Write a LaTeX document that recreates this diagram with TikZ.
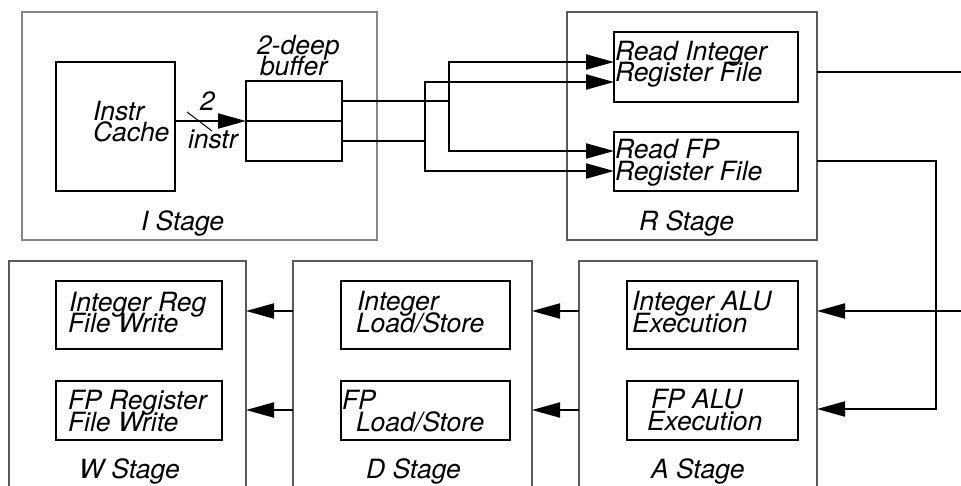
\documentclass[tikz,border=0pt]{standalone}
\usepackage{fontspec}
\setmainfont{TeX Gyre Heros}
\usetikzlibrary{arrows.meta}
\definecolor{stagelight}{HTML}{868686}
\definecolor{stagedark}{HTML}{5A5A5A}
\tikzset{
  stagebox/.style={draw=stagedark, line width=2pt, anchor=north west, inner sep=0pt, outer sep=0pt},
  unitbox/.style={draw=black, line width=2pt, anchor=north west, inner sep=0pt, outer sep=0pt},
  lbl/.style={anchor=base west, inner sep=0pt, outer sep=0pt, font=\fontsize{26.5}{21}\selectfont\itshape},
  conn/.style={draw=black, line width=2pt},
  arr/.style={conn, -{Triangle[length=28pt,width=15pt]}},
}
\begin{document}
\begin{tikzpicture}[x=1pt, y=-1pt]
\useasboundingbox (0,0) rectangle (961,485);
\clip (0,0) rectangle (961,485);

% pipeline stages
\node[stagebox, draw=stagelight, minimum width=355pt, minimum height=228pt] (istage) at (22,12) {};
\node[stagebox, minimum width=250pt, minimum height=228pt] (rstage) at (567,12) {};
\node[stagebox, minimum width=237pt, minimum height=240pt] (wstage) at (9,261) {};
\node[stagebox, minimum width=239pt, minimum height=240pt] (dstage) at (293,261) {};
\node[stagebox, minimum width=238pt, minimum height=240pt] (astage) at (579,261) {};

% functional units
\node[unitbox, minimum width=119pt, minimum height=129pt] (cache) at (56,62) {};
\node[unitbox, minimum width=96pt, minimum height=40pt] (buf1) at (246,81) {};
\node[unitbox, minimum width=96pt, minimum height=40pt] (buf2) at (246,121) {};
\node[unitbox, minimum width=184pt, minimum height=70pt] (rint) at (614,32) {};
\node[unitbox, minimum width=184pt, minimum height=59pt] (rfp) at (614,132) {};
\node[unitbox, minimum width=166pt, minimum height=68pt] (wint) at (56,281) {};
\node[unitbox, minimum width=166pt, minimum height=59pt] (wfp) at (56,381) {};
\node[unitbox, minimum width=169pt, minimum height=68pt] (dint) at (341,281) {};
\node[unitbox, minimum width=169pt, minimum height=59pt] (dfp) at (341,381) {};
\node[unitbox, minimum width=171pt, minimum height=68pt] (aint) at (627,281) {};
\node[unitbox, minimum width=171pt, minimum height=59pt] (afp) at (627,381) {};

% labels
\node[lbl] (t-instr) at (93,120) {Instr};
\node[lbl] (t-cache) at (93,141) {Cache};
\node[lbl] (t-deep) at (257,54) {2-deep};
\node[lbl] (t-buffer) at (260,75) {buffer};
\node[lbl] (t-two) at (200,110) {2};
\node[lbl] (t-instrs) at (188,148) {instr};
\node[lbl] (t-istage) at (141,230) {I Stage};

\node[lbl] (t-rint1) at (615,60) {Read Integer};
\node[lbl] (t-rint2) at (615,81) {Register File};
\node[lbl] (t-rfp1) at (615,158) {Read FP};
\node[lbl] (t-rfp2) at (615,180) {Register File};
\node[lbl] (t-rstage) at (639,230) {R Stage};

\node[lbl] (t-wint1) at (69,311) {Integer Reg};
\node[lbl] (t-wint2) at (68,332) {File Write};
\node[lbl] (t-wfp1) at (68,409) {FP Register};
\node[lbl] (t-wfp2) at (68,431) {File Write};
\node[lbl] (t-wstage) at (79,478) {W Stage};

\node[lbl] (t-dint1) at (357,310) {Integer};
\node[lbl] (t-dint2) at (356,332) {Load/Store};
\node[lbl] (t-dfp1) at (342,409) {FP};
\node[lbl] (t-dfp2) at (356,431) {Load/Store};
\node[lbl] (t-dstage) at (366,478) {D Stage};

\node[lbl] (t-aint1) at (632,310) {Integer ALU};
\node[lbl] (t-aint2) at (632,332) {Execution};
\node[lbl] (t-afp1) at (651,408) {FP ALU};
\node[lbl] (t-afp2) at (647,430) {Execution};
\node[lbl] (t-astage) at (651,478) {A Stage};

% fetch path: cache to buffer, 2 instructions wide
\draw[arr] (cache.east |- buf1.south west) -- (buf1.south west);
\coordinate (slashA) at (187,112);
\coordinate (slashB) at (212,131);
\draw[line width=1pt] (slashA) -- (slashB);

% buffer slots fan out to both register files
\coordinate (ja) at (449,101);
\coordinate (jb) at (425,141);
\draw[conn] (buf1.east) -- (ja);
\draw[arr] (ja) |- (rint.west |- 0,62);
\draw[arr] (ja) |- (rfp.west |- 0,151);
\draw[conn] (buf2.east) -- (jb);
\draw[arr] (jb) |- (rint.west |- 0,82);
\draw[arr] (jb) |- (rfp.west |- 0,171);

% R stage outputs
\coordinate (outR) at (961,72);
\draw[conn] (rstage.east |- outR) -- (outR);
\coordinate (inA) at (961,311);
\draw[arr] (inA) -- (astage.east |- inA);
\coordinate (loopc) at (936,409);
\draw[arr] (rstage.east |- 0,161) -| (loopc) -- (astage.east |- loopc);

% A -> D -> W
\draw[arr] (astage.west |- 0,311) -- (dstage.east |- 0,311);
\draw[arr] (astage.west |- 0,410) -- (dstage.east |- 0,410);
\draw[arr] (dstage.west |- 0,311) -- (wstage.east |- 0,311);
\draw[arr] (dstage.west |- 0,410) -- (wstage.east |- 0,410);
\end{tikzpicture}
\end{document}
